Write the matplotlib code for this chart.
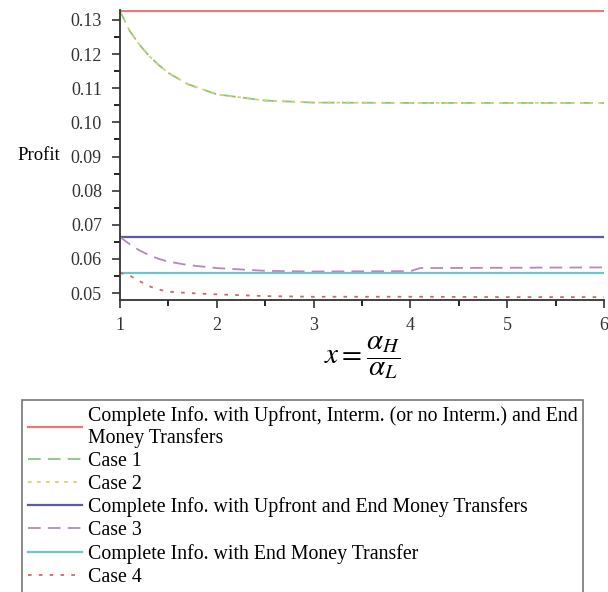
import numpy as np
import matplotlib.pyplot as plt
from matplotlib.ticker import MultipleLocator

plt.rcParams['font.family'] = ['Liberation Serif', 'DejaVu Serif']
plt.rcParams['mathtext.fontset'] = 'stix'

# values
x_pts = [1, 1.1, 1.2, 1.3, 1.4, 1.5, 1.7, 2, 2.5, 3, 4, 4.1, 5, 6]
full_info = [0.1326] * len(x_pts)
case1 = [0.1326, 0.1268, 0.1228, 0.1195, 0.1168, 0.1145, 0.1112, 0.1082, 0.1064, 0.1058, 0.1057, 0.1057, 0.1057, 0.1057]
case2 = case1
upfront_end = [0.0664] * len(x_pts)
case3 = [0.0664, 0.0643, 0.0625, 0.0611, 0.0600, 0.0592, 0.0582, 0.0573, 0.0565, 0.0563, 0.0564, 0.0573, 0.0574, 0.0575]
end_only = [0.0559] * len(x_pts)
case4 = [0.0559, 0.0551, 0.0535, 0.0520, 0.0510, 0.0504, 0.0500, 0.0496, 0.0491, 0.0489, 0.0489, 0.0489, 0.0488, 0.0488]

labels = ["Complete Info. with Upfront, Interm. (or no Interm.) and End\nMoney Transfers",
          "Case 1", "Case 2",
          "Complete Info. with Upfront and End Money Transfers",
          "Case 3",
          "Complete Info. with End Money Transfer",
          "Case 4"]

fig = plt.figure(figsize=(6.08, 5.92), dpi=100)
ax = fig.add_axes([120 / 608, 292 / 592, 484 / 608, 290 / 592])

ax.plot(x_pts, full_info, color="#e57a7a", lw=1.6, label=labels[0])
ax.plot(x_pts, case1, color="#88c488", lw=1.3, dashes=(7, 4), label=labels[1])
ax.plot(x_pts, case2, color="#d8d070", lw=1.3, dashes=(2, 3), label=labels[2])
ax.plot(x_pts, upfront_end, color="#5a5aa8", lw=1.6, label=labels[3])
ax.plot(x_pts, case3, color="#b58ab8", lw=1.3, dashes=(7, 4), label=labels[4])
ax.plot(x_pts, end_only, color="#6cc6c6", lw=1.6, label=labels[5])
ax.plot(x_pts, case4, color="#d06868", lw=1.3, dashes=(2, 4), label=labels[6])

ax.set_xlim(1, 6)
ax.set_ylim(0.04795, 0.13293)
ax.spines['top'].set_visible(False)
ax.spines['right'].set_visible(False)
for s in ['left', 'bottom']:
    ax.spines[s].set_color("#333333")
    ax.spines[s].set_linewidth(1.3)
ax.xaxis.set_major_locator(MultipleLocator(1))
ax.xaxis.set_minor_locator(MultipleLocator(0.5))
ax.yaxis.set_major_locator(MultipleLocator(0.01))
ax.yaxis.set_minor_locator(MultipleLocator(0.005))
ax.yaxis.set_major_formatter(plt.FuncFormatter(lambda v, p: f"{v:.2f}"))
ax.tick_params(labelsize=13, length=6, width=1.2, color="#333333", labelcolor="#333333")
ax.tick_params(axis='y', pad=7)
ax.tick_params(axis='x', pad=6)
ax.tick_params(which='minor', length=4, width=1.2)

ax.set_ylabel("Profit", rotation=0, fontsize=13.5, ha='center', va='center')
ax.yaxis.set_label_coords(-0.167, 0.5)
ax.set_xlabel(r"$x=\dfrac{\alpha_H}{\alpha_L}$", fontsize=21, labelpad=0)

leg = fig.legend(loc="upper left", bbox_to_anchor=(22 / 608, 1 - 400 / 592),
                 fontsize=14.3, frameon=True, fancybox=False, edgecolor="#555555",
                 handlelength=2.7, handletextpad=0.3, labelspacing=0.2,
                 borderpad=0.3, borderaxespad=0)
leg.get_frame().set_linewidth(1.2)
for t in leg.get_texts():
    t.set_linespacing(1.12)

fig.savefig("out.png", dpi=100)
